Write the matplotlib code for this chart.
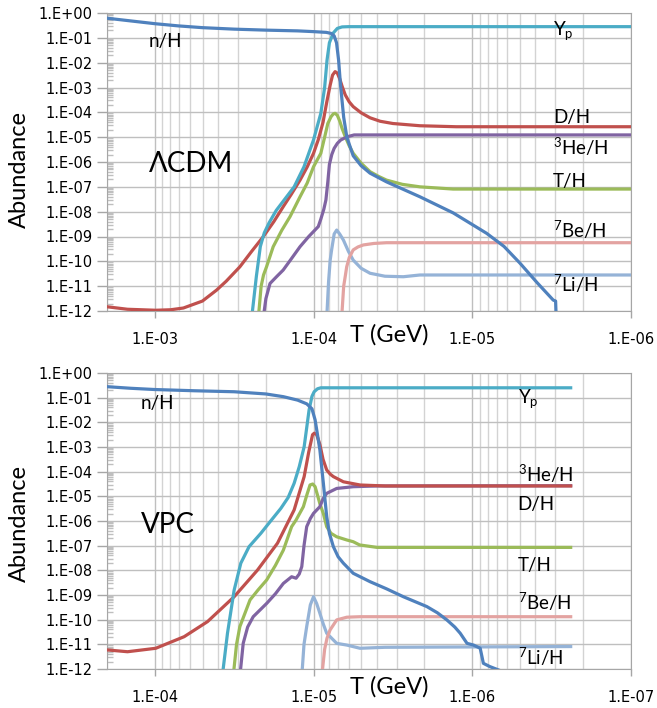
import matplotlib
matplotlib.use('Agg')
import matplotlib.pyplot as plt
import numpy as np
from matplotlib.ticker import LogLocator, FuncFormatter, NullFormatter

plt.rcParams['font.family'] = ['Lato', 'DejaVu Sans']
plt.rcParams['mathtext.fontset'] = 'custom'
plt.rcParams['mathtext.rm'] = 'Lato'
plt.rcParams['mathtext.default'] = 'regular'

# Excel 2010 palette
c_n = '#4F81BD'
c_yp = '#4BACC6'
c_d = '#C0504D'
c_he3 = '#8064A2'
c_t = '#9BBB59'
c_be7 = '#E3A3A1'
c_li7 = '#95B3D7'

# ---- LCDM panel, values as (log10 T [GeV], log10 abundance) ----
lcdm_nH = [(-2.70, -0.21), (-2.85, -0.32), (-3.0, -0.43), (-3.15, -0.52), (-3.3, -0.59),
           (-3.5, -0.65), (-3.7, -0.69), (-3.9, -0.72), (-4.0, -0.75), (-4.08, -0.78),
           (-4.11, -0.82), (-4.13, -0.92), (-4.145, -1.2), (-4.158, -1.9), (-4.17, -2.9),
           (-4.19, -4.2), (-4.21, -5.0), (-4.25, -5.75), (-4.3, -6.15), (-4.356, -6.45),
           (-4.46, -6.8), (-4.67, -7.4), (-4.88, -8.05), (-5.09, -8.87), (-5.2, -9.4),
           (-5.3, -10.07), (-5.41, -10.87), (-5.51, -11.56), (-5.525, -11.6), (-5.53, -12.5)]
lcdm_Yp = [(-3.61, -12.3), (-3.64, -10.6), (-3.665, -9.4), (-3.69, -8.85), (-3.72, -8.45),
           (-3.765, -7.95), (-3.815, -7.53), (-3.878, -7.0), (-3.94, -6.19), (-4.0, -5.11),
           (-4.046, -4.04), (-4.07, -3.0), (-4.085, -1.9), (-4.10, -1.2), (-4.125, -0.8),
           (-4.15, -0.62), (-4.18, -0.56), (-4.22, -0.55), (-6.0, -0.55)]
lcdm_DH = [(-2.70, -11.83), (-2.828, -11.93), (-3.006, -11.97), (-3.1, -11.95), (-3.18, -11.88),
           (-3.3, -11.6), (-3.389, -11.16), (-3.45, -10.8), (-3.536, -10.22), (-3.61, -9.6),
           (-3.683, -9.01), (-3.75, -8.4), (-3.809, -7.8), (-3.86, -7.3), (-3.915, -6.73),
           (-3.96, -6.2), (-4.0, -5.65), (-4.03, -5.1), (-4.06, -4.4), (-4.083, -3.6),
           (-4.105, -2.9), (-4.12, -2.5), (-4.136, -2.36), (-4.15, -2.42), (-4.165, -2.65),
           (-4.18, -2.95), (-4.2, -3.3), (-4.225, -3.58), (-4.25, -3.77), (-4.3, -4.02),
           (-4.356, -4.22), (-4.42, -4.36), (-4.5, -4.45), (-4.67, -4.54), (-4.9, -4.58),
           (-6.0, -4.58)]
lcdm_He3 = [(-3.683, -12.3), (-3.70, -11.5), (-3.726, -10.89), (-3.77, -10.6), (-3.809, -10.35),
            (-3.86, -9.9), (-3.915, -9.41), (-3.97, -9.0), (-4.0, -8.8), (-4.03, -8.6),
            (-4.046, -8.3), (-4.065, -7.9), (-4.078, -7.53), (-4.09, -6.8), (-4.1, -6.1),
            (-4.115, -5.7), (-4.13, -5.45), (-4.15, -5.25), (-4.172, -5.11), (-4.214, -4.98),
            (-4.256, -4.91), (-6.0, -4.91)]
lcdm_TH = [(-3.652, -12.3), (-3.67, -11.0), (-3.685, -10.55), (-3.704, -10.22), (-3.746, -9.41),
           (-3.8, -8.75), (-3.852, -8.2), (-3.915, -7.4), (-3.96, -6.85), (-4.0, -6.19),
           (-4.046, -5.65), (-4.07, -5.0), (-4.09, -4.45), (-4.11, -4.18), (-4.125, -4.06),
           (-4.136, -4.04), (-4.15, -4.12), (-4.165, -4.35), (-4.18, -4.65), (-4.2, -4.98),
           (-4.225, -5.35), (-4.25, -5.65), (-4.3, -6.05), (-4.356, -6.39), (-4.41, -6.58),
           (-4.46, -6.73), (-4.56, -6.9), (-4.67, -7.0), (-4.88, -7.09), (-6.0, -7.09)]
lcdm_Be7 = [(-4.177, -12.3), (-4.19, -11.0), (-4.2, -10.6), (-4.209, -10.22), (-4.225, -9.85),
            (-4.25, -9.54), (-4.28, -9.42), (-4.314, -9.34), (-4.38, -9.28), (-4.46, -9.25),
            (-6.0, -9.25)]
lcdm_Li7 = [(-4.083, -12.3), (-4.095, -10.8), (-4.105, -9.95), (-4.114, -9.54), (-4.13, -8.9),
            (-4.146, -8.74), (-4.165, -8.9), (-4.188, -9.14), (-4.22, -9.6), (-4.25, -9.95),
            (-4.3, -10.28), (-4.356, -10.48), (-4.45, -10.6), (-4.566, -10.62), (-4.67, -10.55),
            (-6.0, -10.55)]

# ---- VPC panel ----
vpc_nH = [(-3.70, -0.555), (-3.85, -0.62), (-4.0, -0.67), (-4.25, -0.72), (-4.5, -0.76),
          (-4.7, -0.85), (-4.81, -0.96), (-4.9, -1.1), (-4.957, -1.25), (-4.99, -1.45),
          (-5.01, -1.9), (-5.025, -2.5), (-5.04, -3.12), (-5.062, -4.47), (-5.083, -5.82),
          (-5.1, -6.5), (-5.125, -7.04), (-5.155, -7.45), (-5.188, -7.71), (-5.25, -8.12),
          (-5.356, -8.46), (-5.46, -8.75), (-5.566, -9.07), (-5.714, -9.47), (-5.78, -9.72),
          (-5.84, -10.01), (-5.89, -10.3), (-5.924, -10.55), (-5.967, -10.96), (-6.008, -11.03),
          (-6.05, -11.16), (-6.07, -11.77), (-6.11, -11.9), (-6.17, -12.05)]
vpc_Yp = [(-4.427, -12.2), (-4.458, -10.55), (-4.5, -8.8), (-4.542, -7.71), (-4.594, -7.04),
          (-4.668, -6.5), (-4.73, -6.0), (-4.794, -5.49), (-4.84, -5.05), (-4.878, -4.47),
          (-4.91, -3.8), (-4.941, -2.99), (-4.972, -1.5), (-4.99, -0.95), (-5.004, -0.76),
          (-5.025, -0.64), (-5.046, -0.6), (-6.62, -0.6)]
vpc_DH = [(-3.706, -11.23), (-3.828, -11.3), (-4.006, -11.16), (-4.185, -10.69),
          (-4.332, -10.08), (-4.5, -9.07), (-4.647, -7.99), (-4.773, -6.9), (-4.878, -5.55),
          (-4.941, -4.2), (-4.97, -3.2), (-4.994, -2.5), (-5.005, -2.44), (-5.02, -2.5),
          (-5.04, -2.9), (-5.06, -3.5), (-5.083, -3.93), (-5.105, -4.1), (-5.125, -4.2),
          (-5.188, -4.41), (-5.293, -4.54), (-5.45, -4.58), (-6.62, -4.58)]
vpc_He3 = [(-4.536, -12.3), (-4.557, -10.96), (-4.585, -10.3), (-4.62, -9.88), (-4.705, -9.34),
           (-4.76, -8.95), (-4.81, -8.53), (-4.862, -8.26), (-4.89, -8.32), (-4.91, -8.15),
           (-4.926, -7.85), (-4.94, -7.0), (-4.957, -6.23), (-4.98, -5.9), (-5.0, -5.69),
           (-5.04, -5.42), (-5.06, -5.1), (-5.083, -4.88), (-5.146, -4.68), (-5.25, -4.61),
           (-5.4, -4.58), (-6.62, -4.57)]
vpc_TH = [(-4.494, -12.3), (-4.515, -11.0), (-4.536, -10.28), (-4.6, -9.2), (-4.65, -8.8),
          (-4.705, -8.39), (-4.76, -7.8), (-4.81, -7.18), (-4.862, -6.23), (-4.89, -5.96),
          (-4.936, -5.42), (-4.96, -4.9), (-4.978, -4.54), (-4.995, -4.5), (-5.01, -4.61),
          (-5.025, -4.95), (-5.04, -5.3), (-5.062, -5.7), (-5.083, -6.23), (-5.11, -6.5),
          (-5.146, -6.64), (-5.21, -6.77), (-5.25, -6.84), (-5.29, -6.97), (-5.4, -7.07),
          (-6.62, -7.07)]
vpc_Be7 = [(-5.052, -12.3), (-5.07, -11.2), (-5.085, -10.75), (-5.104, -10.42),
           (-5.146, -10.01), (-5.21, -9.9), (-5.293, -9.88), (-6.62, -9.88)]
vpc_Li7 = [(-4.926, -12.3), (-4.94, -11.0), (-4.957, -10.28), (-4.98, -9.4), (-5.0, -9.07),
           (-5.02, -9.35), (-5.04, -9.74), (-5.06, -10.15), (-5.083, -10.55), (-5.146, -10.96),
           (-5.21, -11.03), (-5.293, -11.16), (-5.45, -11.12), (-6.62, -11.09)]

# label positions (log10 T, log10 Y) at text baseline
lcdm_labels = [('Y$_p$', -5.508, -0.886), ('D/H', -5.508, -4.44), ('$^3$He/H', -5.508, -5.72),
               ('T/H', -5.508, -7.0), ('$^7$Be/H', -5.508, -9.07), ('$^7$Li/H', -5.508, -11.22),
               ('n/H', -2.964, -1.36)]
vpc_labels = [('Y$_p$', -6.285, -1.20), ('$^3$He/H', -6.285, -4.41), ('D/H', -6.285, -5.55),
              ('T/H', -6.285, -8.01), ('$^7$Be/H', -6.285, -9.58), ('$^7$Li/H', -6.285, -11.84),
              ('n/H', -3.912, -1.47)]


def draw(ax, series, labels, xlim, title, title_pos):
    cols = {'nH': c_n, 'Yp': c_yp, 'DH': c_d, 'He3': c_he3, 'TH': c_t, 'Be7': c_be7, 'Li7': c_li7}
    for key in ['Li7', 'Be7', 'TH', 'He3', 'DH', 'Yp', 'nH']:
        pts = np.array(series[key])
        ax.plot(10.0 ** pts[:, 0], 10.0 ** pts[:, 1], color=cols[key], lw=2.3,
                solid_joinstyle='round', zorder=3)
    ax.set_xscale('log')
    ax.set_yscale('log')
    ax.set_xlim(xlim)
    ax.set_ylim(1e-12, 1)

    ax.yaxis.set_major_locator(LogLocator(base=10, numticks=50))
    ax.yaxis.set_minor_locator(LogLocator(base=10, subs=np.arange(2, 10), numticks=50))
    ax.xaxis.set_major_locator(LogLocator(base=10, numticks=50))
    ax.xaxis.set_minor_locator(LogLocator(base=10, subs=np.arange(2, 10), numticks=50))
    fmt = FuncFormatter(lambda v, p: '1.E%+03d' % int(round(np.log10(v))))
    ax.yaxis.set_major_formatter(fmt)
    ax.xaxis.set_major_formatter(fmt)
    ax.xaxis.set_minor_formatter(NullFormatter())
    ax.yaxis.set_minor_formatter(NullFormatter())

    ax.tick_params(axis='y', which='major', direction='out', length=7, width=1, color='#A6A6A6',
                   pad=3.5, labelsize=10.5, labelfontfamily='DejaVu Sans')
    ax.tick_params(axis='y', which='minor', direction='in', length=4, width=1, color='#BFBFBF')
    ax.tick_params(axis='x', which='major', direction='out', length=5, width=1, color='#A6A6A6',
                   pad=10, labelsize=10.5, labelfontfamily='DejaVu Sans')
    ax.tick_params(axis='x', which='minor', length=0)

    ax.grid(which='major', axis='both', color='#BFBFBF', lw=1, zorder=0)
    ax.grid(which='minor', axis='x', color='#D3D3D3', lw=1, zorder=0)
    ax.set_axisbelow(True)
    for s in ax.spines.values():
        s.set_color('#A6A6A6')

    for txt, lx, ly in labels:
        ax.text(10.0 ** lx, 10.0 ** ly, txt, fontsize=13.5, va='baseline', ha='left', zorder=4)
    ax.text(10.0 ** title_pos[0], 10.0 ** title_pos[1], title, fontsize=20,
            va='baseline', ha='left', zorder=4)


fig = plt.figure(figsize=(6.57, 7.08), dpi=100)
ax1 = fig.add_axes([107 / 657, 1 - 311 / 708, 524 / 657, 298 / 708])
ax2 = fig.add_axes([107 / 657, 1 - 669 / 708, 524 / 657, 296 / 708])

draw(ax1, {'nH': lcdm_nH, 'Yp': lcdm_Yp, 'DH': lcdm_DH, 'He3': lcdm_He3, 'TH': lcdm_TH,
           'Be7': lcdm_Be7, 'Li7': lcdm_Li7}, lcdm_labels, (2e-3, 1e-6), '\u039bCDM',
     (-2.964, -6.39))
draw(ax2, {'nH': vpc_nH, 'Yp': vpc_Yp, 'DH': vpc_DH, 'He3': vpc_He3, 'TH': vpc_TH,
           'Be7': vpc_Be7, 'Li7': vpc_Li7}, vpc_labels, (2e-4, 1e-7), 'VPC',
     (-3.912, -6.47))

# axis titles
fig.text(389 / 657, 1 - 335 / 708, 'T (GeV)', fontsize=17, ha='center', va='center')
fig.text(389 / 657, 1 - 687 / 708, 'T (GeV)', fontsize=17, ha='center', va='center')
fig.text(19 / 657, 1 - 170 / 708, 'Abundance', fontsize=17, rotation=90, ha='center', va='center')
fig.text(19 / 657, 1 - 523 / 708, 'Abundance', fontsize=17, rotation=90, ha='center', va='center')

fig.savefig('out.png', dpi=100, facecolor='white')
